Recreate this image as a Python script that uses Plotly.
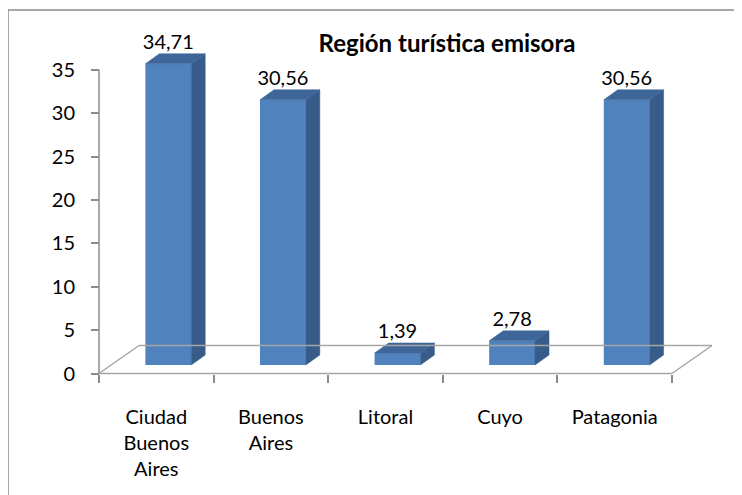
import plotly.graph_objects as go

# ---- data ----
categories = ["Ciudad<br>Buenos<br>Aires", "Buenos<br>Aires", "Litoral", "Cuyo", "Patagonia"]
values = [34.71, 30.56, 1.39, 2.78, 30.56]
y_ticks = [0, 5, 10, 15, 20, 25, 30, 35]
title_text = "Región turística emisora"

# ---- geometry / style (pixels, in page coordinates) ----
OFF = 8                      # page body margin of the browser
W, H = 742 - OFF, 495 - OFF  # figure size so that it fits the window
PX0, PXU = 99.0 - OFF, 114.6     # pixel x of left boundary, pixels per category
PY0, PYU = 373.5 - OFF, 8.68     # pixel y of value 0, pixels per unit
ML, MR, MT, MB = 88, 20, 22, 110
plot_w = W - ML - MR
plot_h = H - MT - MB

def xval(px):
    return -0.5 + (px - PX0) / PXU

def yval(py):
    return (PY0 - py) / PYU

xr = [xval(ML), xval(W - MR)]
yr = [yval(H - MB), yval(MT)]

def paper_x(px):
    return (px - ML) / plot_w

def paper_y(py):
    return (H - MB - py) / plot_h

shift = 12 / PXU          # bar front offset due to depth
base = 8.5 / PYU          # bar front baseline above front floor edge
bw = 0.40                 # bar width in categories
ddx, ddy = 14 / PXU, 10 / PYU      # bar depth
fdx, fdy = 40 / PXU, 28 / PYU      # floor depth
lab_drop = 0.5 / PYU

FRONT = "#5082BE"
SIDE = "#375C89"
TOP = "#3E6699"
GRID = "#A6A6A6"
AXIS = "#8C8C8C"
FONT = "Lato"

xs = [i + shift for i in range(len(values))]

fig = go.Figure()

fig.add_trace(go.Bar(
    x=xs, y=values, base=[base] * len(values), width=bw,
    marker=dict(color=FRONT, line=dict(width=0)),
    hoverinfo="skip", showlegend=False,
))

side_x, side_y, top_x, top_y = [], [], [], []
for x, v in zip(xs, values):
    x0, x1 = x - bw / 2, x + bw / 2
    t = base + v
    side_x += [x1, x1 + ddx, x1 + ddx, x1, x1, None]
    side_y += [base, base + ddy, t + ddy, t, base, None]
    top_x += [x0, x1, x1 + ddx, x0 + ddx, x0, None]
    top_y += [t, t, t + ddy, t + ddy, t, None]

fig.add_trace(go.Scatter(
    x=side_x, y=side_y, mode="lines", fill="toself", fillcolor=SIDE,
    line=dict(color=SIDE, width=0.5), hoverinfo="skip", showlegend=False,
))
fig.add_trace(go.Scatter(
    x=top_x, y=top_y, mode="lines", fill="toself", fillcolor=TOP,
    line=dict(color=TOP, width=0.5), hoverinfo="skip", showlegend=False,
    xaxis="x2",
))

labels = [f"{v:.2f}".replace(".", ",") for v in values]
fig.add_trace(go.Scatter(
    x=xs, y=[base + v + ddy - lab_drop for v in values], mode="text", text=labels,
    textposition="top center", textfont=dict(family=FONT, size=20, color="#000000"),
    cliponaxis=False, hoverinfo="skip", showlegend=False,
))

n = len(values)
shapes = [
    # floor outline
    dict(type="line", xref="x", yref="y", x0=-0.5, y0=0, x1=n - 0.5, y1=0,
         line=dict(color=GRID, width=1.5)),
    dict(type="line", xref="x", yref="y", x0=-0.5, y0=0, x1=-0.5 + fdx, y1=fdy,
         line=dict(color=GRID, width=1.5)),
    dict(type="line", xref="x", yref="y", x0=-0.5 + fdx, y0=fdy, x1=n - 0.5 + fdx, y1=fdy,
         line=dict(color=GRID, width=1.5)),
    dict(type="line", xref="x", yref="y", x0=n - 0.5, y0=0, x1=n - 0.5 + fdx, y1=fdy,
         line=dict(color=GRID, width=1.5)),
    # value axis line
    dict(type="line", xref="x", yref="y", x0=-0.5, y0=0, x1=-0.5, y1=max(y_ticks),
         line=dict(color=AXIS, width=1.5), layer="above"),
    # chart border
    dict(type="rect", xref="paper", yref="paper",
         x0=paper_x(0), y0=paper_y(H + 20), x1=paper_x(W + 20), y1=paper_y(10 - OFF),
         line=dict(color="#8C8C8C", width=1.5), fillcolor="rgba(0,0,0,0)"),
]

fig.update_layout(
    width=W, height=H, autosize=False,
    margin=dict(l=ML, r=MR, t=MT, b=MB, pad=0),
    paper_bgcolor="white", plot_bgcolor="white",
    showlegend=False,
    font=dict(family=FONT, size=20, color="#000000"),
    title=dict(text=title_text, xref="container", yref="container",
               x=(447 - OFF) / W, y=1 - (44 - OFF) / H, xanchor="center", yanchor="middle",
               font=dict(family=FONT, size=24, color="#000000", weight=700)),
    xaxis=dict(range=xr, tickvals=list(range(n)), ticktext=categories,
               showline=False, showgrid=False, zeroline=False, ticks="",
               tickfont=dict(family=FONT, size=20), ticklabelstandoff=18,
               fixedrange=True),
    xaxis2=dict(range=xr, overlaying="x", anchor="free", side="bottom",
                position=paper_y(PY0),
                tickvals=[i - 0.5 for i in range(n + 1)], showticklabels=False,
                ticks="outside", ticklen=8, tickwidth=1.5, tickcolor=AXIS,
                showline=False, showgrid=False, zeroline=False, fixedrange=True),
    yaxis=dict(range=yr, tickvals=y_ticks, ticktext=[str(t) for t in y_ticks],
               anchor="free", position=paper_x(PX0),
               ticks="outside", ticklen=8, tickwidth=1.5, tickcolor=AXIS,
               showline=False, showgrid=False, zeroline=False,
               tickfont=dict(family=FONT, size=20), ticklabelstandoff=12,
               fixedrange=True),
    shapes=shapes,
)

fig.write_html("out.html")
